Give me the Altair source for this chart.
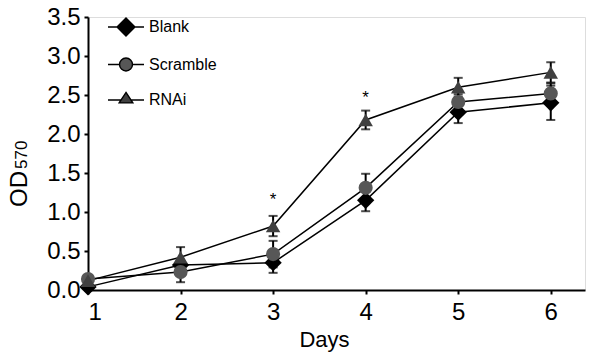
import altair as alt
import pandas as pd

days = [1, 2, 3, 4, 5, 6]
series_names = ["Blank", "Scramble", "RNAi"]
blank = [0.04, 0.32, 0.35, 1.15, 2.28, 2.40]
scramble = [0.14, 0.23, 0.46, 1.31, 2.41, 2.52]
rnai = [0.12, 0.42, 0.82, 2.18, 2.60, 2.79]
blank_err = [0.02, 0.05, 0.13, 0.14, 0.14, 0.22]
scramble_err = [0.02, 0.13, 0.17, 0.18, 0.10, 0.13]
rnai_err = [0.02, 0.13, 0.13, 0.12, 0.12, 0.13]
star_days = [3, 4]
star_values = [1.15, 2.46]
y_ticks = [0, 0.5, 1.0, 1.5, 2.0, 2.5, 3.0, 3.5]

colors = ["#000000", "#575757", "#404040"]
shapes = ["diamond", "circle", "triangle-up"]
sizes = [300, 200, 210]
legend_paths = [
    "M-1,0L-0.45,0M0.45,0L1,0M0,-0.5L0.5,0L0,0.5L-0.5,0Z",
    "M-1,0L-0.36,0M0.36,0L1,0M-0.36,0A0.36,0.36 0 1,0 0.36,0A0.36,0.36 0 1,0 -0.36,0Z",
    "M-1,0L-0.3,0M0.3,0L1,0M0,-0.42L0.38,0.16L-0.38,0.16Z",
]

rows = []
for name, vals, errs in zip(series_names, [blank, scramble, rnai], [blank_err, scramble_err, rnai_err]):
    for d, v, e in zip(days, vals, errs):
        rows.append({"day": d, "value": v, "lo": v - e, "hi": v + e, "series": name, "series2": name})
df = pd.DataFrame(rows)
stars = pd.DataFrame({"day": star_days, "value": star_values, "t": ["*", "*"]})

FONT = "Liberation Sans"
xs = alt.Scale(domain=[1, 6.37], nice=False, zero=False)
ys = alt.Scale(domain=[0, 3.5], nice=False, zero=True)

x_axis = alt.Axis(values=days, format="d", labelFontSize=24, title="Days", titleFontSize=22,
                  titleFontWeight="normal", titlePadding=5, titleX=236, tickSize=4, tickWidth=2,
                  domainWidth=2, domainColor="black", tickColor="black", labelColor="black",
                  titleColor="black", grid=False, labelPadding=6, labelFont=FONT, titleFont=FONT,
                  labelOverlap=False)
y_axis = alt.Axis(values=y_ticks, format=".1f", labelFontSize=24, title=None, tickSize=4, tickWidth=2,
                  domainWidth=2, domainColor="black", tickColor="black", labelColor="black",
                  grid=False, labelPadding=4, labelFont=FONT, labelOverlap=False, labelFlush=False)


def X(field):
    return alt.X(field, type="quantitative", scale=xs, axis=x_axis)


def Y(field):
    return alt.Y(field, type="quantitative", scale=ys, axis=y_axis)


base = alt.Chart(df)

lines = base.mark_line(color="black", strokeWidth=1.5).encode(x=X("day"), y=Y("value"), detail="series:N")
err_rule = base.mark_rule(color="black", strokeWidth=2).encode(x=X("day"), y=Y("lo"), y2="hi:Q")
cap_hi = base.mark_tick(color="black", orient="horizontal", size=9, thickness=2).encode(x=X("day"), y=Y("hi"))
cap_lo = base.mark_tick(color="black", orient="horizontal", size=9, thickness=2).encode(x=X("day"), y=Y("lo"))

point_layers = []
for name, col, shp, sz in zip(series_names, colors, shapes, sizes):
    point_layers.append(
        base.transform_filter(alt.datum.series == name)
        .mark_point(filled=True, shape=shp, size=sz, color=col, opacity=1)
        .encode(x=X("day"), y=Y("value"))
    )

legend = alt.Legend(title=None, orient="none", legendX=19, legendY=-9, padding=0,
                    labelFontSize=16, labelFont=FONT, labelColor="black", labelOffset=4,
                    symbolSize=1296, symbolStrokeWidth=1.4,
                    symbolOpacity=1, rowPadding=6.5)
legend_layer = base.mark_point(opacity=0, strokeWidth=1.4).encode(
    x=X("day"), y=Y("value"),
    shape=alt.Shape("series2:N", scale=alt.Scale(domain=series_names, range=legend_paths), legend=legend),
    fill=alt.Fill("series2:N", scale=alt.Scale(domain=series_names, range=colors), legend=legend),
    stroke=alt.Stroke("series2:N", scale=alt.Scale(domain=series_names, range=["black", "black", "black"]), legend=legend),
)

star_layer = alt.Chart(stars).mark_text(fontSize=17, font=FONT, color="black", baseline="middle").encode(
    x=X("day"), y=Y("value"), text="t:N")

od = alt.Chart(pd.DataFrame({"t": ["OD"]})).mark_text(
    fontSize=24, font=FONT, angle=270, align="left", baseline="alphabetic", color="black"
).encode(x=alt.value(-61), y=alt.value(190), text="t:N")
sub = alt.Chart(pd.DataFrame({"t": ["570"]})).mark_text(
    fontSize=17, font=FONT, angle=270, align="left", baseline="alphabetic", color="black"
).encode(x=alt.value(-61), y=alt.value(152), text="t:N")

chart = alt.layer(lines, err_rule, cap_hi, cap_lo, *point_layers, legend_layer, star_layer, od, sub).properties(
    width=497, height=273, autosize="none",
    padding={"left": 88, "top": 17, "right": 5, "bottom": 63},
).configure_view(stroke=None).configure(font=FONT)

chart.save("out.html", embed_options={"renderer": "svg", "actions": False})
